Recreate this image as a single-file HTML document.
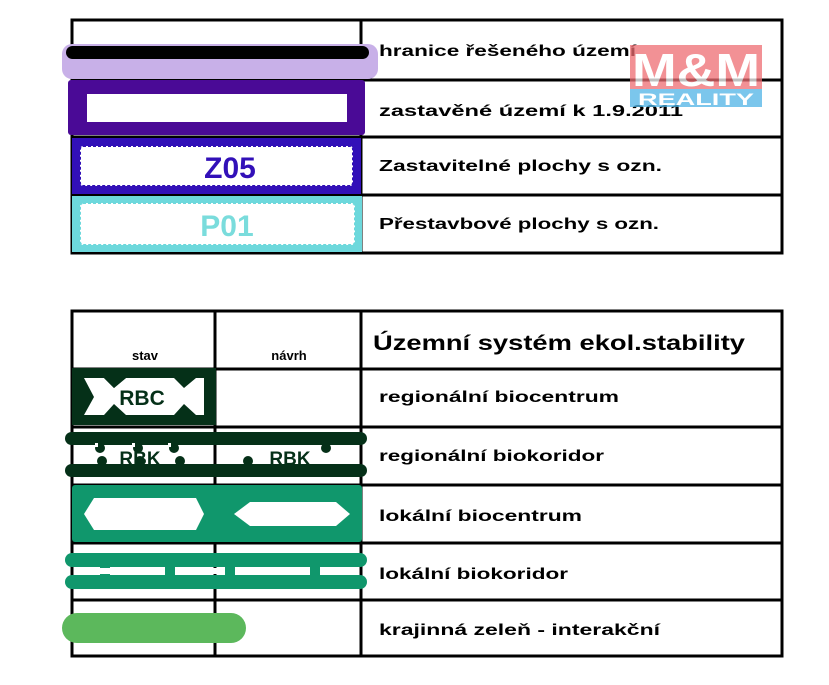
<!DOCTYPE html>
<html><head><meta charset="utf-8"><style>
html,body{margin:0;padding:0;background:#fff;}
svg{display:block;}
text{font-family:"Liberation Sans",Arial,sans-serif;font-weight:bold;}
</style></head><body>
<svg width="829" height="685" viewBox="0 0 829 685" xmlns="http://www.w3.org/2000/svg">
<!-- Table 1 -->
<g stroke="#000" stroke-width="3" fill="none">
<rect x="72" y="20" width="710" height="233"/>
<line x1="361" y1="20" x2="361" y2="253"/>
<line x1="72" y1="80" x2="782" y2="80"/>
<line x1="72" y1="137" x2="782" y2="137"/>
<line x1="72" y1="195" x2="782" y2="195"/>
</g>
<!-- row1 -->
<rect x="62" y="44" width="316" height="35" rx="10" fill="#c8b0e8"/>
<rect x="66" y="46" width="303" height="13" rx="6.5" fill="#000"/>
<!-- row2 -->
<rect x="68" y="80" width="297" height="55" rx="3" fill="#4a0a96"/>
<rect x="87" y="94" width="260" height="28" fill="#fff"/>
<!-- row3 -->
<rect x="72" y="138" width="289" height="56" fill="#3210b8"/>
<rect x="80" y="146" width="273" height="40" rx="3" fill="#fff" stroke="#3210b8" stroke-width="2" stroke-dasharray="3 2"/>
<text x="230" y="178" font-size="30" fill="#3210b8" text-anchor="middle">Z05</text>
<!-- row4 -->
<rect x="72" y="196" width="290" height="56" fill="#6dd8dc"/>
<rect x="80" y="203" width="275" height="42" rx="3" fill="#fff" stroke="#6dd8dc" stroke-width="2" stroke-dasharray="3 2"/>
<text x="227" y="236" font-size="30" fill="#7adcdc" text-anchor="middle">P01</text>
<g font-size="16" fill="#000">
<text x="379" y="56" textLength="257" lengthAdjust="spacingAndGlyphs">hranice řešeného území</text>
<text x="379" y="116" textLength="304" lengthAdjust="spacingAndGlyphs">zastavěné území k  1.9.2011</text>
<text x="379" y="171" textLength="283" lengthAdjust="spacingAndGlyphs">Zastavitelné plochy s ozn.</text>
<text x="379" y="229" textLength="280" lengthAdjust="spacingAndGlyphs">Přestavbové plochy s ozn.</text>
</g>
<!-- logo -->
<g opacity="0.75">
<rect x="630" y="45" width="132" height="44" fill="#ee6d72"/>
<text x="696" y="86" font-size="46" fill="#fff" text-anchor="middle" textLength="128" lengthAdjust="spacingAndGlyphs">M&amp;M</text>
<rect x="630" y="89" width="132" height="18" fill="#4fb4e6"/>
<text x="696" y="105" font-size="17" fill="#fff" text-anchor="middle" textLength="116" lengthAdjust="spacingAndGlyphs">REALITY</text>
</g>

<!-- Table 2 -->
<g stroke="#000" stroke-width="3" fill="none">
<rect x="72" y="311" width="710" height="345"/>
<line x1="215" y1="311" x2="215" y2="656"/>
<line x1="361" y1="311" x2="361" y2="656"/>
<line x1="72" y1="369" x2="782" y2="369"/>
<line x1="72" y1="427" x2="782" y2="427"/>
<line x1="72" y1="485" x2="782" y2="485"/>
<line x1="72" y1="543" x2="782" y2="543"/>
<line x1="72" y1="600" x2="782" y2="600"/>
</g>
<text x="145" y="360" font-size="13" text-anchor="middle">stav</text>
<text x="289" y="360" font-size="13" text-anchor="middle">návrh</text>
<text x="373" y="350" font-size="21" textLength="372" lengthAdjust="spacingAndGlyphs">Územní systém ekol.stability</text>
<g font-size="16" fill="#000">
<text x="379" y="402" textLength="240" lengthAdjust="spacingAndGlyphs">regionální biocentrum</text>
<text x="379" y="461" textLength="225" lengthAdjust="spacingAndGlyphs">regionální biokoridor</text>
<text x="379" y="521" textLength="203" lengthAdjust="spacingAndGlyphs">lokální biocentrum</text>
<text x="379" y="579" textLength="189" lengthAdjust="spacingAndGlyphs">lokální biokoridor</text>
<text x="379" y="635" textLength="281" lengthAdjust="spacingAndGlyphs">krajinná zeleň - interakční</text>
</g>
<!-- RBC -->
<rect x="72" y="368" width="144" height="57" fill="#053018"/>
<polygon points="84,378 104,378 114,388 126,378 174,378 184,388 196,378 204,378 204,415 196,415 184,404 174,415 126,415 114,404 104,415 84,415 94,397" fill="#fff"/>
<polygon points="104,378 114,388 126,378" fill="#053018"/>
<text x="142" y="405" font-size="21" fill="#053018" text-anchor="middle">RBC</text>
<!-- RBK -->
<g fill="#053018">
<rect x="65" y="432" width="302" height="13" rx="6.5"/>
<rect x="65" y="464" width="302" height="13" rx="6.5"/>
<circle cx="100" cy="448" r="5"/><circle cx="138" cy="448" r="5"/><circle cx="174" cy="448" r="5"/>
<circle cx="102" cy="461" r="5"/><circle cx="140" cy="461" r="5"/><circle cx="180" cy="461" r="5"/>
<circle cx="248" cy="461" r="5"/><circle cx="326" cy="448" r="5"/>
</g>
<g fill="#fff"><rect x="95" y="443" width="3" height="4"/><rect x="132" y="443" width="3" height="4"/><rect x="168" y="443" width="3" height="4"/></g>
<text x="140" y="465" font-size="19" fill="#053018" text-anchor="middle">RBK</text>
<text x="290" y="465" font-size="19" fill="#053018" text-anchor="middle">RBK</text>
<!-- lokální biocentrum -->
<rect x="72" y="485" width="290" height="57" rx="3" fill="#10976c"/>
<polygon points="84,514 94,498 196,498 204,514 196,530 94,530" fill="#fff"/>
<polygon points="234,514 250,502 336,502 350,514 336,526 250,526" fill="#fff"/>
<!-- lokální biokoridor -->
<g fill="#10976c">
<rect x="65" y="553" width="302" height="14" rx="7"/>
<rect x="65" y="575" width="302" height="14" rx="7"/>
<rect x="100" y="563" width="10" height="16"/><rect x="165" y="563" width="10" height="16"/>
<rect x="225" y="563" width="10" height="16"/><rect x="310" y="563" width="10" height="16"/>
</g>
<g fill="#fff"><rect x="88" y="568" width="70" height="6"/><rect x="180" y="568" width="40" height="6"/><rect x="248" y="568" width="55" height="6"/></g>
<!-- krajinná zeleň -->
<rect x="62" y="613" width="184" height="30" rx="15" fill="#5cb85c"/>
</svg>
</body></html>
